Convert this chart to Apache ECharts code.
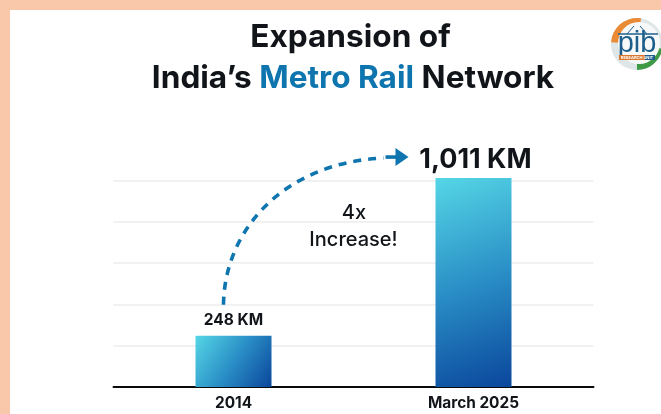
<!DOCTYPE html>
<html>
<head>
<meta charset="utf-8">
<style>
  html, body { margin: 0; padding: 0; background: #f9c8ab; overflow: hidden; }
  #chart { width: 661px; height: 414px; }
</style>
<script src="https://cdn.jsdelivr.net/npm/echarts@6/dist/echarts.min.js"></script>
</head>
<body>
<div id="chart"></div>
<script>
const categories = ['2014', 'March 2025'];
const networkKm = [248, 1011];
const unit = 'KM';
const titleLines = ['Expansion of', "India\u2019s ", 'Metro Rail', ' Network'];
const growthNote = ['4x', 'Increase!'];

const FONT = 'Inter, "Open Sans", sans-serif';
const INK = '#111418';
const BLUE = '#0f75ae';
const TITLE_SIZE = 31.6;

const barFill = new echarts.graphic.LinearGradient(0, 0, 1, 1, [
  { offset: 0, color: '#55d6e6' },
  { offset: 0.5, color: '#2a8fc6' },
  { offset: 1, color: '#0a469c' }
]);

const chart = echarts.init(document.getElementById('chart'), null, { renderer: 'canvas' });

// Curved dashed arrow rising from the 2014 label to the March 2025 label.
function renderArrow(params, api) {
  const from = api.coord([categories[0], networkKm[0]]);
  const to = api.coord([categories[1], networkKm[1]]);
  const x0 = from[0] - 10, y0 = from[1] - 31;
  const x1 = to[0] - 79, y1 = to[1] - 21;
  return {
    type: 'group',
    children: [
      {
        type: 'bezierCurve',
        shape: {
          x1: x0, y1: y0,
          cpx1: x0 + 1, cpy1: y0 - 78,
          cpx2: x0 + 64, cpy2: y1 + 5,
          x2: x1 - 11, y2: y1 + 1
        },
        style: { stroke: BLUE, fill: null, lineWidth: 3.6, lineDash: [8, 7] }
      },
      {
        type: 'line',
        shape: { x1: x1 - 9, y1: y1, x2: x1 + 4, y2: y1 },
        style: { stroke: BLUE, lineWidth: 3.6 }
      },
      {
        type: 'polygon',
        shape: { points: [[x1 + 1, y1 - 9], [x1 + 14, y1], [x1 + 1, y1 + 9]] },
        style: { fill: BLUE }
      }
    ]
  };
}

chart.setOption({
  animation: false,
  backgroundColor: 'transparent',
  title: [
    {
      text: titleLines[0],
      left: 345.5, top: 16, textAlign: 'center',
      textStyle: { fontFamily: FONT, fontSize: TITLE_SIZE, fontWeight: 700, color: INK }
    },
    {
      text: '{k|' + titleLines[1] + '}{b|' + titleLines[2] + '}{k|' + titleLines[3] + '}',
      left: 348, top: 57, textAlign: 'center',
      textStyle: {
        rich: {
          k: { fontFamily: FONT, fontSize: TITLE_SIZE, fontWeight: 700, color: INK },
          b: { fontFamily: FONT, fontSize: TITLE_SIZE, fontWeight: 700, color: BLUE }
        }
      }
    }
  ],
  grid: { left: 113.5, right: 67.5, top: 139, bottom: 27 },
  xAxis: {
    type: 'category',
    data: categories,
    axisLine: { lineStyle: { color: '#0a0a0a', width: 2 } },
    axisTick: { show: false },
    axisLabel: {
      fontFamily: FONT, fontSize: 15.4, fontWeight: 700, color: INK, margin: 9
    }
  },
  yAxis: {
    type: 'value',
    min: 0,
    max: 1200,
    interval: 200,
    axisLine: { show: false },
    axisTick: { show: false },
    axisLabel: { show: false },
    splitLine: { showMaxLine: false, lineStyle: { color: '#ececec', width: 1.5 } }
  },
  series: [
    {
      type: 'bar',
      barWidth: 76,
      itemStyle: { color: barFill },
      label: {
        show: true,
        position: 'top',
        fontFamily: FONT,
        color: INK,
        formatter: p => p.value.toLocaleString('en-US') + ' ' + unit
      },
      data: [
        { value: networkKm[0], label: { fontSize: 15.5, fontWeight: 700, distance: 7 } },
        { value: networkKm[1], label: { fontSize: 27, fontWeight: 700, distance: 5, offset: [2, 0] } }
      ]
    },
    {
      type: 'custom',
      renderItem: renderArrow,
      silent: true,
      data: [[0, 0]],
      encode: { x: 0, y: 1 },
      z: 5
    }
  ],
  graphic: [
    {
      type: 'rect', z: -10, silent: true,
      shape: { x: 10, y: 10, width: 651, height: 404 },
      style: { fill: '#ffffff' }
    },
    {
      type: 'text', x: 354, y: 213, silent: true,
      style: {
        text: growthNote[0],
        font: '500 20px ' + FONT, fill: INK, textAlign: 'center', textVerticalAlign: 'middle'
      }
    },
    {
      type: 'text', x: 353.5, y: 240, silent: true,
      style: {
        text: growthNote[1],
        font: '500 20px ' + FONT, fill: INK, textAlign: 'center', textVerticalAlign: 'middle'
      }
    },
    // Research unit emblem in the upper right corner.
    {
      type: 'group', z: 20, silent: true,
      children: [
        { type: 'circle', shape: { cx: 637, cy: 44, r: 26 }, style: { fill: '#dfe6e8' } },
        { type: 'sector', shape: { cx: 637, cy: 44, r: 26, startAngle: Math.PI * 1.02, endAngle: Math.PI * 1.55 }, style: { fill: '#ea8a35' } },
        { type: 'sector', shape: { cx: 637, cy: 44, r: 26, startAngle: Math.PI * 0.06, endAngle: Math.PI * 0.5 }, style: { fill: '#3f9a45' } },
        { type: 'circle', shape: { cx: 639, cy: 43, r: 21 }, style: { fill: '#f7f9f9' } },
        { type: 'line', shape: { x1: 618, y1: 34, x2: 658, y2: 34 }, style: { stroke: '#1d5f8c', lineWidth: 1.5 } },
        { type: 'line', shape: { x1: 634, y1: 26, x2: 627, y2: 34 }, style: { stroke: '#1d5f8c', lineWidth: 1 } },
        { type: 'line', shape: { x1: 640, y1: 26, x2: 647, y2: 34 }, style: { stroke: '#1d5f8c', lineWidth: 1 } },
        { type: 'text', style: { x: 637, y: 29, text: 'pib', font: '400 29px "Liberation Sans", sans-serif', fill: '#1d5f8c', textAlign: 'center' } },
        { type: 'rect', shape: { x: 619, y: 55, width: 26, height: 5 }, style: { fill: '#d9772c' } },
        { type: 'rect', shape: { x: 645, y: 55, width: 10, height: 5 }, style: { fill: '#1d5f8c' } },
        { type: 'text', style: { x: 637, y: 55.5, text: 'RESEARCH UNIT', font: '700 4px ' + FONT, fill: '#ffffff', textAlign: 'center' } }
      ]
    }
  ]
});
</script>
</body>
</html>
